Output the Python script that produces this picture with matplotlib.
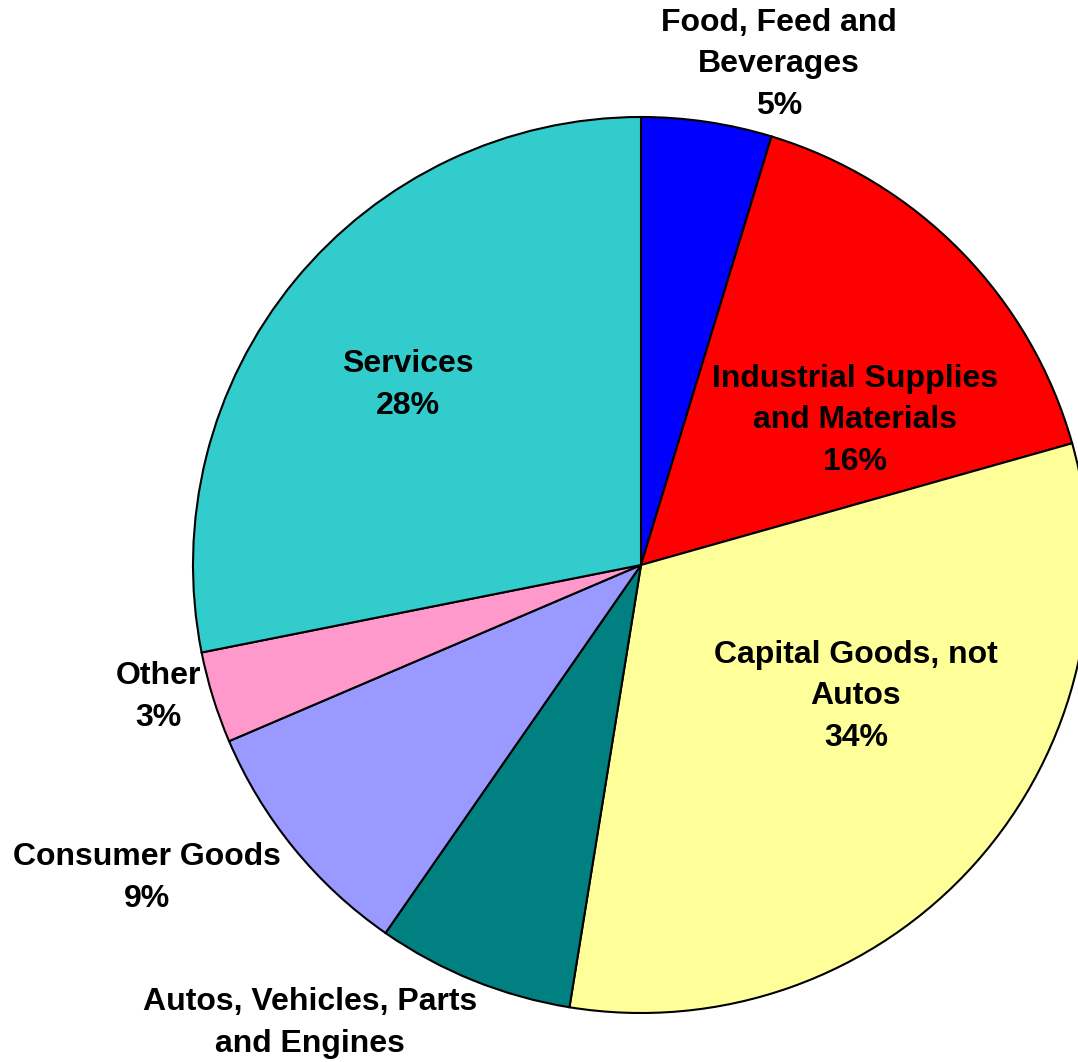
import matplotlib
matplotlib.use("Agg")
import matplotlib.pyplot as plt

categories = ["Food, Feed and\nBeverages", "Industrial Supplies\nand Materials",
              "Capital Goods, not\nAutos", "Autos, Vehicles, Parts\nand Engines",
              "Consumer Goods", "Other", "Services"]
values = [4.7, 15.9, 31.9, 7.1, 8.9, 3.3, 28.1]
# percentage shown in each label (the Autos one lies below the picture's edge)
pct_labels = ["5%", "16%", "34%", None, "9%", "3%", "28%"]
colors = ["#0000FF", "#FF0000", "#FFFF99", "#008080", "#9999FF", "#FF99CC", "#33CCCC"]

W, H = 1078, 1062
fig = plt.figure(figsize=(W / 100, H / 100), dpi=100)
ax = fig.add_axes([0, 0, 1, 1])

cx, cy, r = 641, H - 565, 448
ax.pie(values, colors=colors, startangle=90, counterclock=False,
       center=(cx, cy), radius=r, frame=True,
       wedgeprops=dict(edgecolor="black", linewidth=1.5))
ax.set_xlim(0, W)
ax.set_ylim(0, H)
ax.set_aspect("equal")
ax.axis("off")

# label centers in pixel coords (x, y from top)
label_pos = [(779, 64), (855, 420), (856, 696), (310, 1023), (147, 878), (158, 697), (408, 385)]
for cat, pct, (lx, ly) in zip(categories, pct_labels, label_pos):
    txt = cat if pct is None else cat + "\n" + pct
    ax.text(lx, H - ly, txt, ha="center", va="center", fontsize=23,
            fontweight="bold", family="Liberation Sans", linespacing=1.5,
            color="black", clip_on=False)

fig.savefig("out.png", dpi=100)
